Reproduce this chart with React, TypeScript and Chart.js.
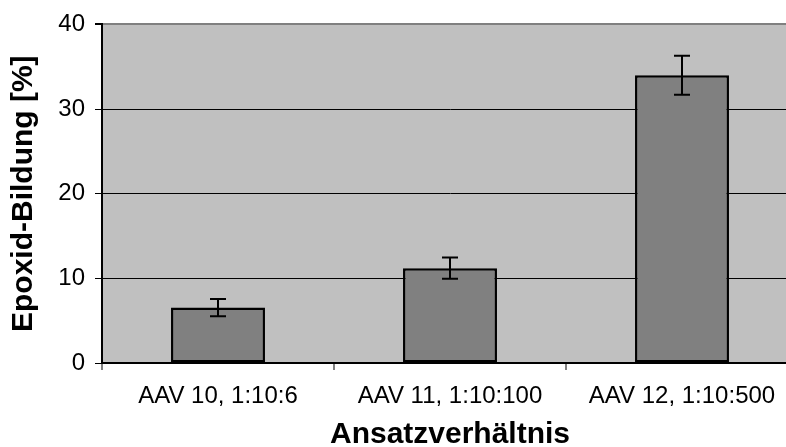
import React, { useEffect, useRef } from "react";
import { Chart, registerables } from "chart.js";

Chart.register(...registerables);

const categories = ["AAV 10, 1:10:6", "AAV 11, 1:10:100", "AAV 12, 1:10:500"];
const values = [6.55, 11.2, 34.0];
const errors = [1.02, 1.25, 2.3];
const yMin = 0;
const yMax = 40;
const yStep = 10;
const yTitle = "Epoxid-Bildung [%]";
const xTitle = "Ansatzverhältnis";

const FONT = "'Liberation Sans', Arial, Helvetica, sans-serif";

const bgPlugin = {
  id: "plotBg",
  beforeDraw(chart: any) {
    const { ctx, chartArea } = chart;
    ctx.save();
    ctx.fillStyle = "#c0c0c0";
    ctx.fillRect(chartArea.left, chartArea.top, chartArea.right - chartArea.left, chartArea.bottom - chartArea.top);
    ctx.restore();
  },
};

const errorPlugin = {
  id: "errorBars",
  afterDatasetsDraw(chart: any) {
    const { ctx } = chart;
    const meta = chart.getDatasetMeta(0);
    const yScale = chart.scales.y;
    ctx.save();
    ctx.strokeStyle = "#000";
    ctx.lineWidth = 2;
    meta.data.forEach((bar: any, i: number) => {
      const x = bar.x;
      const yTop = yScale.getPixelForValue(values[i] + errors[i]);
      const yBot = yScale.getPixelForValue(values[i] - errors[i]);
      const cap = 8;
      ctx.beginPath();
      ctx.moveTo(x, yTop);
      ctx.lineTo(x, yBot);
      ctx.moveTo(x - cap, yTop);
      ctx.lineTo(x + cap, yTop);
      ctx.moveTo(x - cap, yBot);
      ctx.lineTo(x + cap, yBot);
      ctx.stroke();
    });
    ctx.restore();
  },
};

export default function App() {
  const ref = useRef<HTMLCanvasElement | null>(null);

  useEffect(() => {
    if (!ref.current) return;
    const chart = new Chart(ref.current, {
      type: "bar",
      data: {
        labels: categories,
        datasets: [
          {
            data: values,
            backgroundColor: "#808080",
            borderColor: "#000000",
            borderWidth: 2.5,
            borderSkipped: false,
            categoryPercentage: 1,
            barPercentage: 0.405,
          },
        ],
      },
      options: {
        responsive: false,
        animation: false,
        devicePixelRatio: 1,
        layout: { padding: { top: 23, right: 2, left: 0, bottom: 0 } },
        plugins: {
          legend: { display: false },
          tooltip: { enabled: false },
        },
        scales: {
          x: {
            offset: true,
            afterFit: (s: any) => {
              s.height = 84;
            },
            grid: {
              offset: true,
              drawOnChartArea: false,
              drawTicks: true,
              tickLength: 7,
              color: "#808080",
              lineWidth: 2,
            },
            border: { display: true, color: "#000", width: 2 },
            ticks: {
              color: "#000",
              padding: 12,
              maxRotation: 0,
              autoSkip: false,
              font: { family: FONT, size: 24 },
            },
            title: {
              display: true,
              text: xTitle,
              color: "#000",
              font: { family: FONT, size: 30, weight: "bold", lineHeight: 0.8 },
              padding: { top: 0, bottom: 0 },
            },
          },
          y: {
            min: yMin,
            max: yMax,
            afterFit: (s: any) => {
              s.width = 102;
            },
            grid: {
              color: (c: any) => (c.tick && c.tick.value === yMax ? "#808080" : "#000"),
              lineWidth: (c: any) => (c.tick && c.tick.value === yMax ? 2 : 1),
              tickColor: "#000",
              tickLength: 7,
              drawTicks: true,
            },
            border: { display: true, color: "#000", width: 2 },
            ticks: {
              stepSize: yStep,
              color: "#000",
              padding: 10,
              font: { family: FONT, size: 24 },
            },
            title: {
              display: true,
              text: yTitle,
              color: "#000",
              font: { family: FONT, size: 30, weight: "bold", lineHeight: 0.8 },
              padding: { top: 12, bottom: 0 },
            },
          },
        },
      },
      plugins: [bgPlugin, errorPlugin],
    });
    return () => chart.destroy();
  }, []);

  return (
    <div
      style={{
        position: "absolute",
        left: 0,
        top: 0,
        width: 786,
        height: 447,
        overflow: "hidden",
        background: "#fff",
      }}
    >
      <canvas ref={ref} width={800} height={447} style={{ width: 800, height: 447, display: "block" }} />
    </div>
  );
}
